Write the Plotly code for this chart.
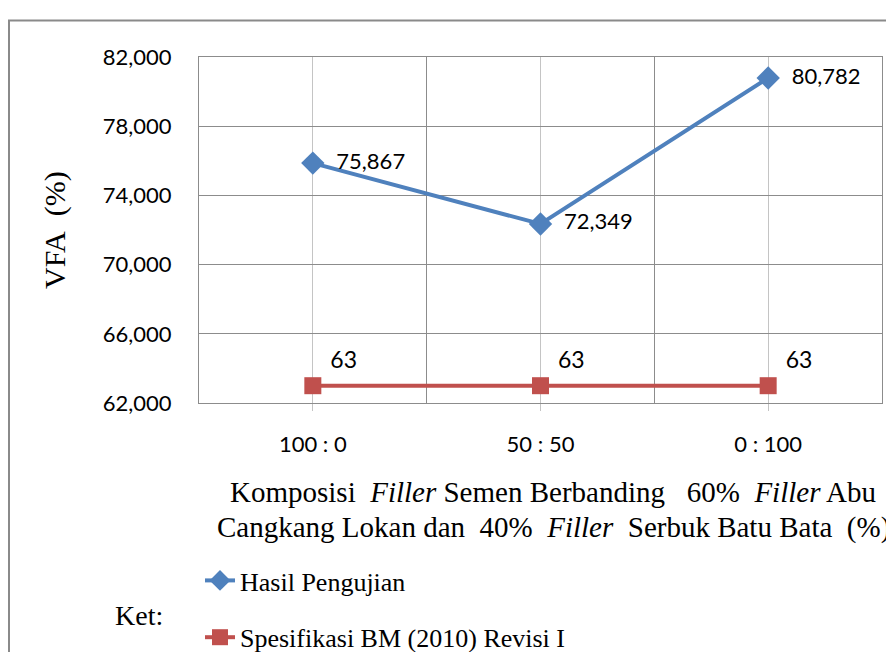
import plotly.graph_objects as go

categories = ["100 : 0", "50 : 50", "0 : 100"]
hasil = [75.867, 72.349, 80.782]
spesifikasi = [63, 63, 63]
y_ticks = [62, 66, 70, 74, 78, 82]

x_idx = list(range(len(categories)))

SERIF = "Liberation Serif"
SANS = "Lato"
GRID_DARK = "#8c8c8c"
GRID_LIGHT = "#c4c4c4"

# browser body margin (8px) is compensated by shrinking the figure
W, H = 886, 644
L, R, T, B = 191, 874, 49, 395
PW, PH = R - L, B - T


def px(x):
    return (x - L) / PW


def py(y):
    return (B - y) / PH


fig = go.Figure()
fig.add_trace(go.Scatter(
    x=x_idx, y=hasil, mode="lines+markers+text",
    name="Hasil Pengujian", legendgroup="a",
    line=dict(color="#4F81BD", width=4),
    marker=dict(symbol="diamond", size=18, color="#4F81BD"),
    texttemplate="\u00a0\u00a0%{y:.3f}", textposition="middle right",
    textfont=dict(family=SANS, size=22, color="black"),
    cliponaxis=False,
))
fig.add_trace(go.Scatter(
    x=x_idx, y=spesifikasi, mode="lines+markers+text",
    name="Spesifikasi BM (2010) Revisi I", legendgroup="b",
    line=dict(color="#C0504D", width=4),
    marker=dict(symbol="square", size=17, color="#C0504D"),
    texttemplate="\u00a0%{y:.0f}", textposition="top right",
    textfont=dict(family=SANS, size=23, color="black"),
    cliponaxis=False,
))

fig.update_layout(
    width=W, height=H,
    margin=dict(l=L, r=W - R, t=T, b=H - B, autoexpand=False),
    paper_bgcolor="white", plot_bgcolor="white",
    separators=",.",
    showlegend=True,
    legend=dict(
        x=px(192), y=py(549), xanchor="left", yanchor="top",
        font=dict(family=SERIF, size=26, color="black"),
        tracegroupgap=20, bgcolor="rgba(0,0,0,0)",
    ),
    xaxis=dict(
        range=[-0.5, 2.5], tickmode="array", tickvals=x_idx, ticktext=categories,
        showgrid=True, gridcolor=GRID_LIGHT, gridwidth=1,
        ticks="outside", ticklen=7, tickcolor=GRID_LIGHT,
        ticklabelstandoff=15,
        tickfont=dict(family=SANS, size=22, color="black"),
        showline=True, linecolor=GRID_DARK, linewidth=1, mirror=True,
        zeroline=False,
        minor=dict(tick0=0.5, dtick=1, showgrid=True, gridcolor=GRID_DARK, gridwidth=1, ticks=""),
    ),
    yaxis=dict(
        range=[62, 82], tickmode="array", tickvals=y_ticks, tickformat=".3f",
        showgrid=True, gridcolor=GRID_DARK, gridwidth=1,
        ticks="outside", ticklen=22, tickcolor="rgba(0,0,0,0)",
        tickfont=dict(family=SANS, size=22, color="black"),
        showline=True, linecolor=GRID_DARK, linewidth=1, mirror=True,
        zeroline=False,
    ),
    annotations=[
        dict(text="VFA\u00a0\u00a0(%)", textangle=-90, xref="paper", yref="paper",
             x=px(47), y=py(222), xanchor="center", yanchor="middle", showarrow=False,
             font=dict(family=SERIF, size=30, color="black")),
        dict(text="Komposisi\u00a0\u00a0<i>Filler</i> Semen\u00a0Berbanding\u00a0\u00a0 60%\u00a0\u00a0<i>Filler</i> Abu",
             xref="paper", yref="paper", x=px(545), y=py(484),
             xanchor="center", yanchor="middle", showarrow=False,
             font=dict(family=SERIF, size=29, color="black")),
        dict(text="Cangkang Lokan dan\u00a0\u00a040%\u00a0\u00a0<i>Filler</i>\u00a0\u00a0Serbuk Batu Bata\u00a0\u00a0(%)",
             xref="paper", yref="paper", x=px(545), y=py(519),
             xanchor="center", yanchor="middle", showarrow=False,
             font=dict(family=SERIF, size=29, color="black")),
        dict(text="Ket:", xref="paper", yref="paper", x=px(131), y=py(607),
             xanchor="center", yanchor="middle", showarrow=False,
             font=dict(family=SERIF, size=28, color="black")),
    ],
    shapes=[
        dict(type="line", xref="paper", yref="paper",
             x0=px(1), x1=px(1), y0=py(12), y1=py(660),
             line=dict(color="#8a8a8a", width=2)),
        dict(type="line", xref="paper", yref="paper",
             x0=px(0), x1=px(900), y0=py(12.5), y1=py(12.5),
             line=dict(color="#8a8a8a", width=2)),
    ],
)

fig.write_html("out.html")
